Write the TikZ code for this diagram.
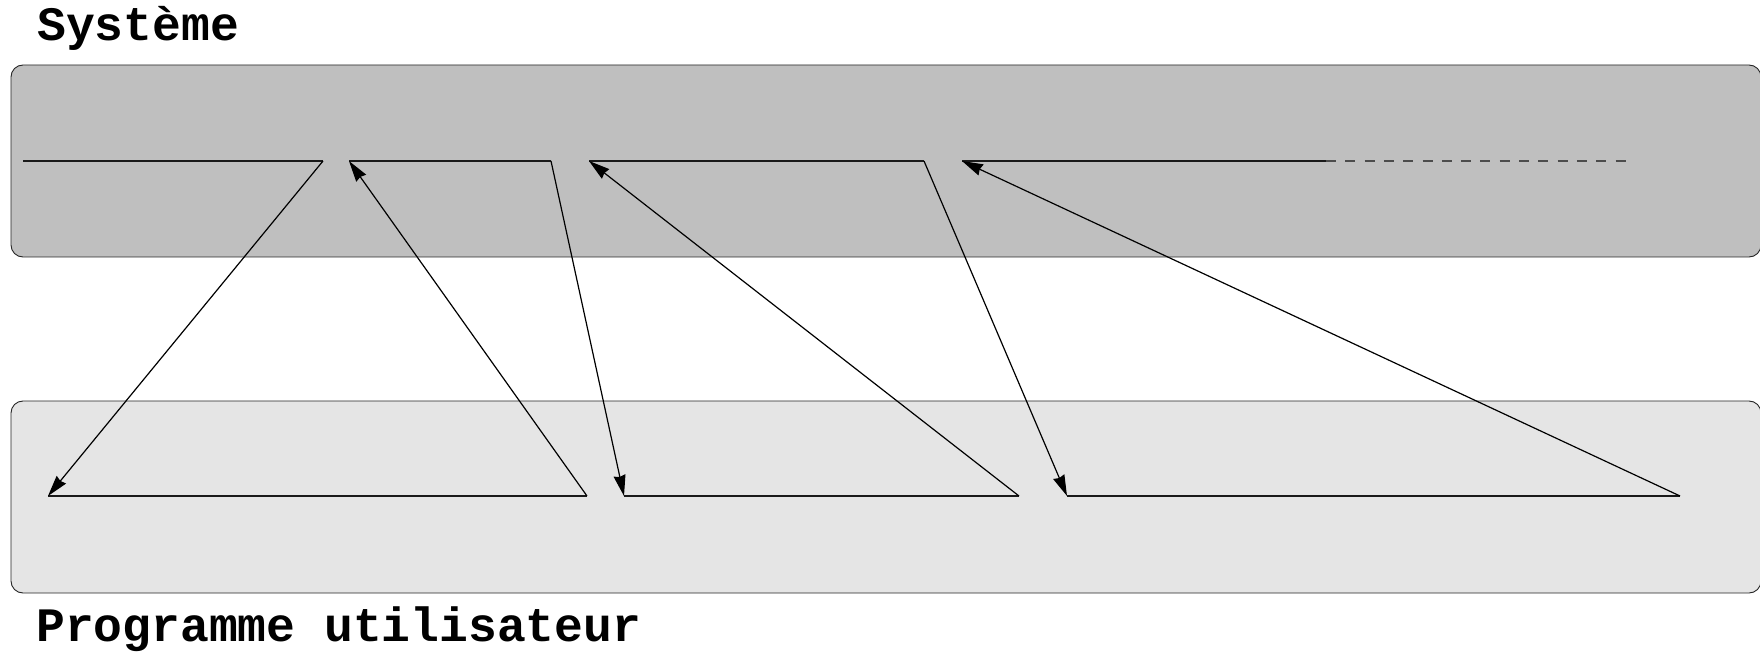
\documentclass[tikz,border=0pt]{standalone}
\usepackage{fontspec}
\setmonofont{Liberation Mono}
\usetikzlibrary{arrows.meta}

\definecolor{sysgray}{HTML}{BFBFBF}
\definecolor{usergray}{HTML}{E5E5E5}

\tikzset{
  layerbox/.style={draw=black!85, line width=0.9pt, rounded corners=12pt,
    minimum width=1750pt, minimum height=192pt, inner sep=0pt},
  layertitle/.style={anchor=base west, inner sep=0pt,
    font=\fontsize{48}{54}\selectfont\ttfamily\bfseries},
  flowline/.style={line width=1.5pt, black!90},
  tailline/.style={line width=1.2pt, black!70, dash pattern=on 10pt off 9.3pt},
  switcharrow/.style={line width=1.2pt, -{Stealth[length=21pt,width=12pt,inset=1.5pt]}}
}

\begin{document}
\begin{tikzpicture}[x=1pt,y=-1pt]
\useasboundingbox (0,0) rectangle (1760,652);

% the two execution layers
\node[layerbox, fill=sysgray]  (sys)  at (886,161) {};
\node[layerbox, fill=usergray] (user) at (886,497) {};

\node[layertitle] (systitle)  at (37,41)  {Système};
\node[layertitle] (usertitle) at (36,641) {Programme utilisateur};

% time slices on the system side
\coordinate (t1a) at (23,161);   \coordinate (t1b) at (323,161);
\coordinate (t2a) at (349,161);  \coordinate (t2b) at (551,161);
\coordinate (t3a) at (589,161);  \coordinate (t3b) at (924,161);
\coordinate (t4a) at (962,161);  \coordinate (t4s) at (1326,161);
\coordinate (t4e) at (1632,161);

% time slices on the user side
\coordinate (b1a) at (48,496);   \coordinate (b1b) at (587,496);
\coordinate (b2a) at (624,496);  \coordinate (b2b) at (1019,496);
\coordinate (b3a) at (1067,496); \coordinate (b3b) at (1680,496);

\draw[flowline] (t1a) -- (t1b);
\draw[flowline] (t2a) -- (t2b);
\draw[flowline] (t3a) -- (t3b);
\draw[flowline] (t4a) -- (t4s);
\draw[tailline] (t4s) -- (t4e);

\draw[flowline] (b1a) -- (b1b);
\draw[flowline] (b2a) -- (b2b);
\draw[flowline] (b3a) -- (b3b);

% switches between the two layers
\draw[switcharrow] (t1b) -- (b1a);
\draw[switcharrow] (b1b) -- (t2a);
\draw[switcharrow] (t2b) -- (b2a);
\draw[switcharrow] (b2b) -- (t3a);
\draw[switcharrow] (t3b) -- (b3a);
\draw[switcharrow] (b3b) -- (t4a);
\end{tikzpicture}
\end{document}
